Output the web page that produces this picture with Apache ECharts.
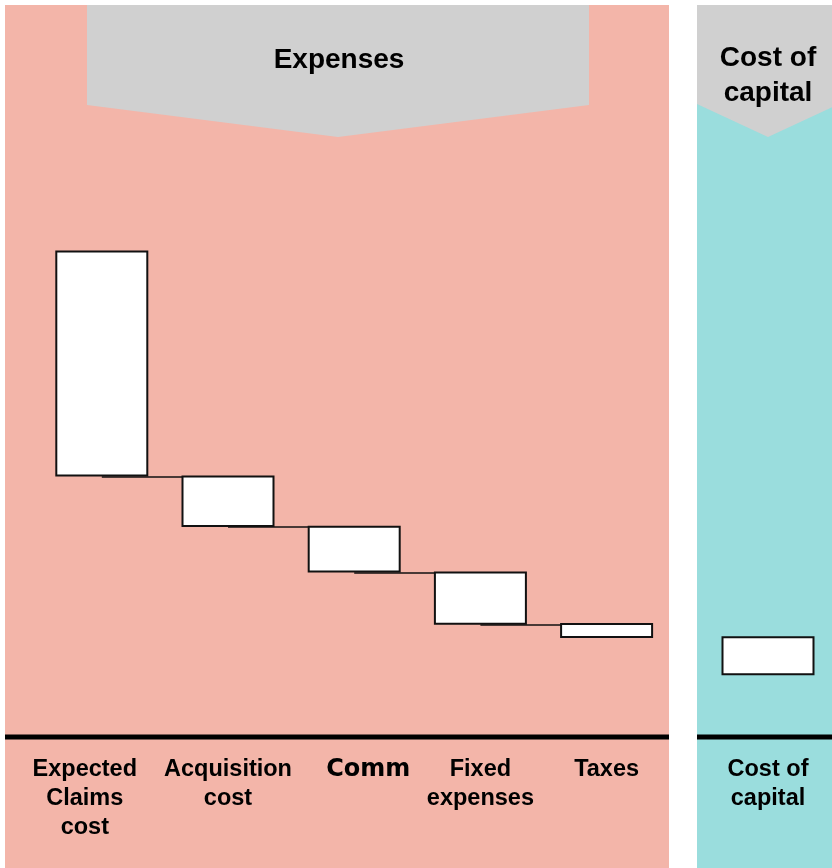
<!DOCTYPE html>
<html>
<head>
<meta charset="utf-8">
<script src="https://cdn.jsdelivr.net/npm/echarts@6/dist/echarts.min.js"></script>
<style>
  html, body { margin: 0; padding: 0; background: #ffffff; }
  #chart { width: 832px; height: 868px; }
</style>
</head>
<body>
<div id="chart"></div>
<script>
// ---- Data ----
const expenseCategories = ['Expected\nClaims\ncost', 'Acquisition\ncost', 'Comm', 'Fixed\nexpenses', 'Taxes'];
const expenseBase = [43.4, 35.0, 27.4, 18.7, 16.5];
const expenseAmount = [37.7, 8.6, 7.8, 8.9, 2.5];
const capitalCategories = ['Cost of\ncapital'];
const capitalBase = [10.3];
const capitalAmount = [6.5];
const groupTitles = ['Expenses', 'Cost of\ncapital'];

// ---- Build ----
const chart = echarts.init(document.getElementById('chart'), null, { renderer: 'canvas' });

const FONT = '"Liberation Sans", Arial, sans-serif';
const PINK = '#F3B5A9';
const TEAL = '#9ADDDD';
const GRAY = '#D0D0D0';

const connectorData = [];
for (let i = 0; i < expenseCategories.length - 1; i++) {
  connectorData.push({ coords: [[i, expenseBase[i]], [i + 1, expenseBase[i]]] });
}

const xLabelStyle = {
  show: true,
  interval: 0,
  color: '#000',
  fontFamily: FONT,
  fontWeight: 'bold',
  fontSize: 23.5,
  lineHeight: 29,
  margin: 18
};

// per-label style tweaks (horizontal nudges of the text only)
const labelTweaks = {
  'Expected\nClaims\ncost': { padding: [0, 34, 0, 0] },
  'Comm': { fontFamily: '"DejaVu Sans", Verdana, sans-serif', fontSize: 24, fontWeight: 'bold', padding: [0, 0, 0, 28] }
};
const expenseAxisData = expenseCategories.map(c => labelTweaks[c] ? { value: c, textStyle: labelTweaks[c] } : c);

const option = {
  animation: false,
  backgroundColor: '#ffffff',
  graphic: [
    { type: 'rect', shape: { x: 5, y: 5, width: 664, height: 863 }, style: { fill: PINK }, z: 0, silent: true },
    { type: 'rect', shape: { x: 697, y: 5, width: 135, height: 863 }, style: { fill: TEAL }, z: 0, silent: true },
    { type: 'polygon', shape: { points: [[87, 5], [589, 5], [589, 105], [338, 137], [87, 105]] }, style: { fill: GRAY }, z: 0, silent: true },
    { type: 'polygon', shape: { points: [[697, 5], [839, 5], [839, 104], [768, 137], [697, 104]] }, style: { fill: GRAY }, z: 0, silent: true },
    { type: 'text', x: 339, y: 60, style: { text: groupTitles[0], fill: '#000', font: 'bold 28px ' + FONT, align: 'center', verticalAlign: 'middle' }, z: 1, silent: true },
    { type: 'text', x: 768, y: 76, style: { text: groupTitles[1], fill: '#000', font: 'bold 28px ' + FONT, lineHeight: 35, align: 'center', verticalAlign: 'middle' }, z: 1, silent: true },
    { type: 'rect', shape: { x: 5, y: 734.5, width: 664, height: 5 }, style: { fill: '#000' }, z: 1, silent: true },
    { type: 'rect', shape: { x: 697, y: 734.5, width: 135, height: 5 }, style: { fill: '#000' }, z: 1, silent: true }
  ],
  grid: [
    { left: 38.7, width: 631, top: 137, bottom: 131, containLabel: false },
    { left: 704, width: 128, top: 137, bottom: 131, containLabel: false }
  ],
  xAxis: [
    { type: 'category', gridIndex: 0, data: expenseAxisData, boundaryGap: true,
      axisLine: { show: false }, axisTick: { show: false }, splitLine: { show: false },
      axisLabel: xLabelStyle },
    { type: 'category', gridIndex: 1, data: capitalCategories, boundaryGap: true,
      axisLine: { show: false }, axisTick: { show: false }, splitLine: { show: false },
      axisLabel: xLabelStyle }
  ],
  yAxis: [
    { type: 'value', gridIndex: 0, min: 0, max: 100, show: false },
    { type: 'value', gridIndex: 1, min: 0, max: 100, show: false }
  ],
  series: [
    {
      type: 'lines', coordinateSystem: 'cartesian2d', xAxisIndex: 0, yAxisIndex: 0,
      data: connectorData, symbol: 'none', z: 1, silent: true,
      lineStyle: { color: '#111', width: 1.5, opacity: 1 }
    },
    {
      type: 'bar', xAxisIndex: 0, yAxisIndex: 0, stack: 'exp', data: expenseBase,
      barWidth: 93, itemStyle: { color: 'transparent' }, silent: true, z: 3
    },
    {
      type: 'bar', xAxisIndex: 0, yAxisIndex: 0, stack: 'exp', data: expenseAmount,
      barWidth: 93, itemStyle: { color: '#ffffff', borderColor: '#111', borderWidth: 2 }, z: 3
    },
    {
      type: 'bar', xAxisIndex: 1, yAxisIndex: 1, stack: 'cap', data: capitalBase,
      barWidth: 93, itemStyle: { color: 'transparent' }, silent: true, z: 3
    },
    {
      type: 'bar', xAxisIndex: 1, yAxisIndex: 1, stack: 'cap', data: capitalAmount,
      barWidth: 93, itemStyle: { color: '#ffffff', borderColor: '#111', borderWidth: 2 }, z: 3
    }
  ]
};

chart.setOption(option);
</script>
</body>
</html>
